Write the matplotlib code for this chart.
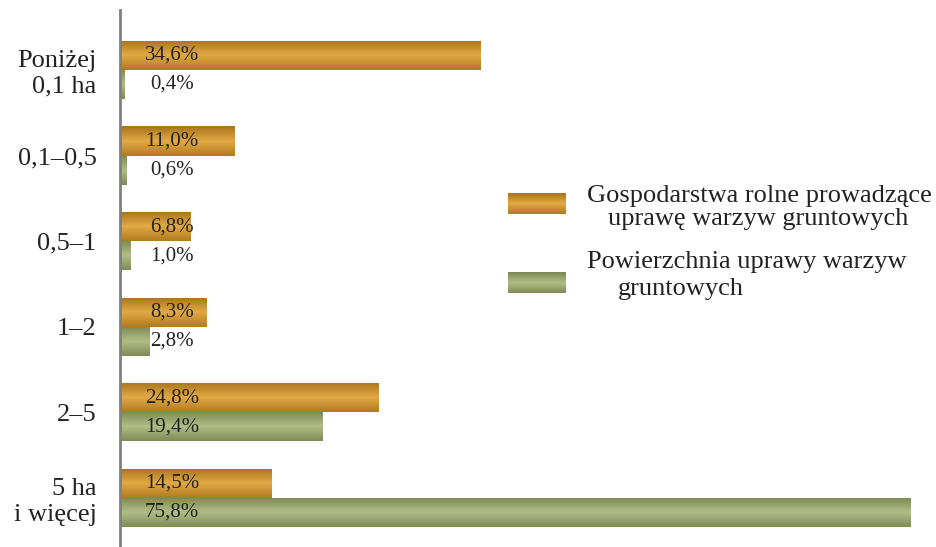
import numpy as np
import matplotlib
matplotlib.use("Agg")
import matplotlib.pyplot as plt
from matplotlib.colors import LinearSegmentedColormap

plt.rcParams['font.family'] = ['Liberation Serif', 'DejaVu Serif']

# data
categories = ['Poniżej\n0,1 ha', '0,1–0,5', '0,5–1', '1–2', '2–5', '5 ha\ni więcej']
farms = [34.6, 11.0, 6.8, 8.3, 24.8, 14.5]
area = [0.4, 0.6, 1.0, 2.8, 19.4, 75.8]
legend_lines = [['Gospodarstwa rolne prowadzące', 'uprawę warzyw gruntowych'],
                ['Powierzchnia uprawy warzyw', 'gruntowych']]

# colour ramps: dark edge -> light middle -> dark edge
orange_cmap = LinearSegmentedColormap.from_list('o', ['#a8731c', '#e2aa44', '#b07a20'])
green_cmap = LinearSegmentedColormap.from_list('g', ['#7b8852', '#b2bd86', '#7f8c56'])

fig = plt.figure(figsize=(9.37, 5.47), dpi=100)
ax = fig.add_axes([120 / 937, 0, (928 - 120) / 937, (547 - 10) / 547])

grad = np.linspace(0, 1, 64).reshape(-1, 1)
h = 0.34
y = np.arange(len(categories))


def gradient_bars(vals, offset, cmap):
    bars = ax.barh(y + offset, vals, height=h, color='none', edgecolor='none')
    for b in bars:
        x0, y0 = b.get_x(), b.get_y()
        im = ax.imshow(grad, extent=[x0, x0 + b.get_width(), y0 + h, y0],
                       aspect='auto', cmap=cmap, zorder=2)
        im.set_clip_path(b)
    return bars


gradient_bars(farms, -h / 2, orange_cmap)
gradient_bars(area, h / 2, green_cmap)

# value labels
for i in range(len(categories)):
    ax.text(5.0, y[i] - h / 2, f'{farms[i]:.1f}%'.replace('.', ','),
            ha='center', va='center', fontsize=15, color='#222222', zorder=3)
    ax.text(5.0, y[i] + h / 2, f'{area[i]:.1f}%'.replace('.', ','),
            ha='center', va='center', fontsize=15, color='#222222', zorder=3)

ax.set_xlim(0, 77.5)
ax.set_ylim(5.573, -0.70)
ax.set_yticks(y)
ax.set_yticklabels(categories, fontsize=19, color='#222222')
for t in ax.get_yticklabels():
    t.set_multialignment('right')
ax.tick_params(axis='y', length=0, pad=17)
ax.set_xticks([])
for s in ['top', 'right', 'bottom']:
    ax.spines[s].set_visible(False)
ax.spines['left'].set_color('#808080')
ax.spines['left'].set_linewidth(2)

# legend drawn by hand
W, H = 937, 547
for (top, cmap, lines, xs, ys) in [
        (193, orange_cmap, legend_lines[0], [587, 608], [202, 225]),
        (272, green_cmap, legend_lines[1], [587, 618], [268, 295])]:
    lax = fig.add_axes([508 / W, 1 - (top + 21) / H, 57 / W, 21 / H])
    lax.imshow(grad, aspect='auto', cmap=cmap)
    lax.axis('off')
    for txt, tx, ty in zip(lines, xs, ys):
        fig.text(tx / W, 1 - ty / H, txt, fontsize=19, color='#222222',
                 ha='left', va='baseline')

fig.savefig('out.png', dpi=100)
